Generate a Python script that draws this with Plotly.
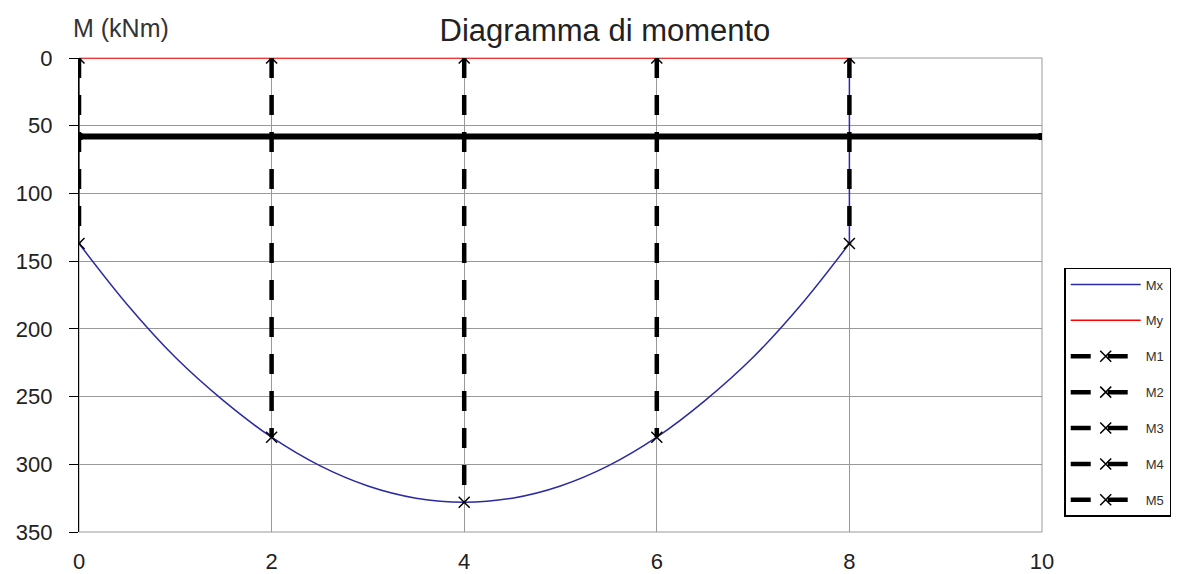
import plotly.graph_objects as go

mx_x = [0.5, 1, 1.5, 2, 2.5, 3, 3.5, 4, 4.5, 5, 5.5, 6, 6.5, 7, 7.5]
mx_y = [182, 221, 253, 280, 301, 316, 325, 328, 325, 316, 301, 280, 253, 221, 182]
mx_appoggi_x = [0, 8]
mx_appoggi_y = [137, 137]

my_x = [0, 8]
my_y = [0, 0]

# Sezioni di verifica M1..M5
sez_nomi = ['M1', 'M2', 'M3', 'M4', 'M5']
sez_x = [0, 2, 4, 6, 8]
sez_m = [137, 280, 328, 280, 137]

# Linea orizzontale spessa (limite)
lim_x = [0, 10]
lim_y = [58, 58]

x_ticks = [0, 2, 4, 6, 8, 10]
y_ticks = [0, 50, 100, 150, 200, 250, 300, 350]

FONT = 'Liberation Sans, Arial, sans-serif'
BLU = '#2a2aa2'

fig = go.Figure()

# Mx: parabola in campata + tratti verticali agli appoggi
x_sx, x_dx = mx_appoggi_x
fig.add_trace(go.Scatter(
    x=[x_sx] + mx_x + [x_dx],
    y=[mx_appoggi_y[0]] + mx_y + [mx_appoggi_y[1]],
    name='Mx', mode='lines', line=dict(color=BLU, width=1.5, shape='spline', smoothing=1),
    legendgroup='Mx'
))
for xa, ya in zip(mx_appoggi_x, mx_appoggi_y):
    fig.add_trace(go.Scatter(
        x=[xa, xa], y=[0, ya], mode='lines', line=dict(color=BLU, width=1.5),
        legendgroup='Mx', showlegend=False
    ))

fig.add_trace(go.Scatter(
    x=my_x, y=my_y, name='My', mode='lines',
    line=dict(color='#ff0000', width=1.5),
    legendgroup='My'
))

for nome, xs, m in zip(sez_nomi, sez_x, sez_m):
    fig.add_trace(go.Scatter(
        x=[xs, xs], y=[0, m], name=nome, mode='lines+markers',
        line=dict(color='black', width=4.5, dash='20px,17px'),
        marker=dict(symbol='x-thin-open', size=11, color='black',
                    line=dict(color='black', width=1.5)),
        legendgroup=nome
    ))

fig.add_trace(go.Scatter(
    x=lim_x, y=lim_y, mode='lines+markers', showlegend=False,
    line=dict(color='black', width=6),
    marker=dict(symbol='square', size=7, color='black')
))

# bordo grigio dell'area del grafico
fig.add_shape(type='rect', xref='paper', yref='paper', x0=0, x1=1, y0=0, y1=1,
              line=dict(color='#999999', width=1), layer='below')

fig.add_annotation(text='M (kNm)', xref='paper', yref='paper', x=-0.008, y=1.063,
                   xanchor='left', yanchor='middle', showarrow=False,
                   font=dict(size=25, color='#333333', family=FONT))

fig.update_layout(
    width=1174, height=566,
    margin=dict(l=71, r=139, t=50, b=42),
    paper_bgcolor='white', plot_bgcolor='white',
    font=dict(family=FONT, color='#222222'),
    title=dict(text='Diagramma di momento', x=0.5085, xanchor='center',
               y=0.961, yanchor='middle',
               font=dict(size=31, color='#222222', family=FONT)),
    legend=dict(x=1.022, y=0.557, xanchor='left', yanchor='top',
                bgcolor='white', bordercolor='black', borderwidth=1.5,
                font=dict(size=13, color='#333333', family=FONT),
                traceorder='grouped', tracegroupgap=16, itemwidth=70),
    showlegend=True
)

fig.update_xaxes(
    range=[0, 10], tickvals=x_ticks, showgrid=True, gridcolor='#999999', gridwidth=1,
    zeroline=False, showline=False, ticks='', automargin=False,
    tickfont=dict(size=22, color='#222222', family=FONT), ticklabelstandoff=14
)
fig.update_yaxes(
    range=[350, 0], tickvals=y_ticks, showgrid=True, gridcolor='#999999', gridwidth=1,
    zeroline=False, showline=True, linecolor='black', linewidth=1.2,
    ticks='outside', ticklen=9, tickcolor='black', tickwidth=1.2, automargin=False,
    tickfont=dict(size=22, color='#222222', family=FONT), ticklabelstandoff=12
)

fig.write_html('out.html')
